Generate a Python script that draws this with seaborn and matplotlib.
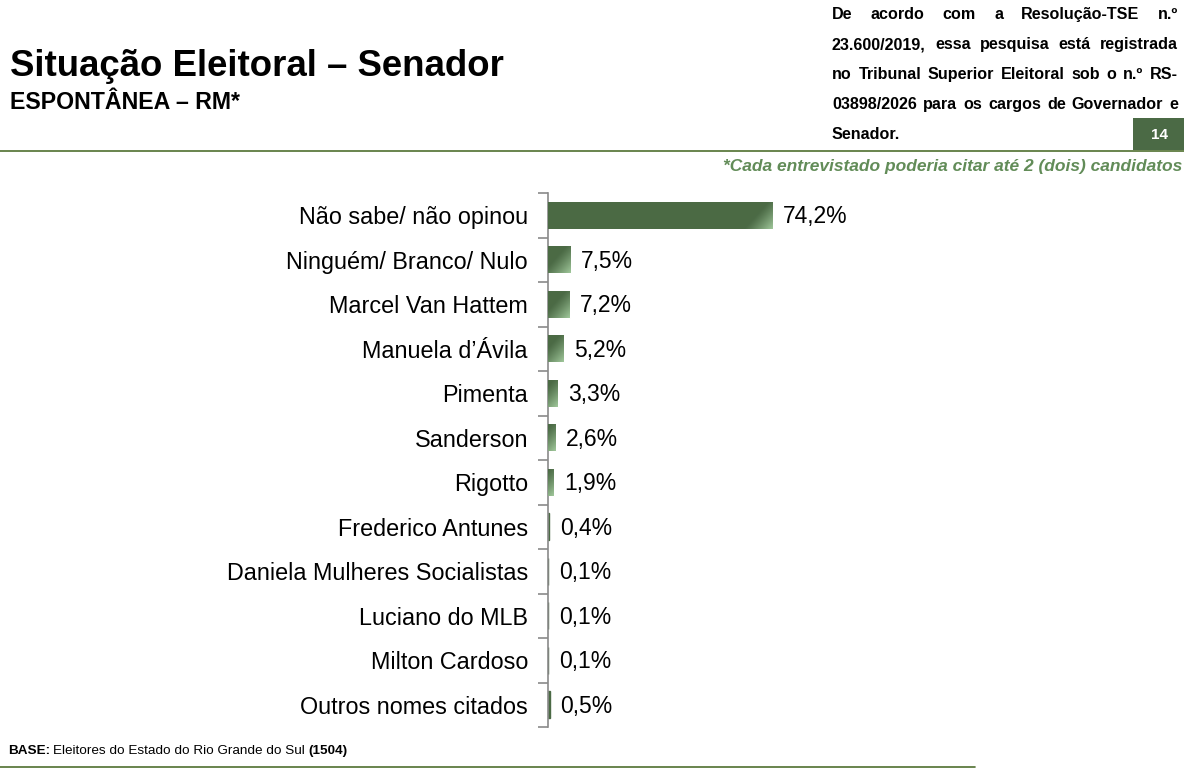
import numpy as np
import pandas as pd
import seaborn as sns
import matplotlib.pyplot as plt
from matplotlib.patches import Rectangle
from matplotlib.lines import Line2D

candidatos = [
    "Não sabe/ não opinou",
    "Ninguém/ Branco/ Nulo",
    "Marcel Van Hattem",
    "Manuela d’Ávila",
    "Pimenta",
    "Sanderson",
    "Rigotto",
    "Frederico Antunes",
    "Daniela Mulheres Socialistas",
    "Luciano do MLB",
    "Milton Cardoso",
    "Outros nomes citados",
]
percentuais = [74.2, 7.5, 7.2, 5.2, 3.3, 2.6, 1.9, 0.4, 0.1, 0.1, 0.1, 0.5]

titulo = "Situação Eleitoral – Senador"
subtitulo = "ESPONTÂNEA – RM*"
nota = "*Cada entrevistado poderia citar até 2 (dois) candidatos"
registro = [
    "De acordo com a Resolução-TSE n.º",
    "23.600/2019, essa pesquisa está registrada",
    "no Tribunal Superior Eleitoral sob o n.º RS-",
    "03898/2026 para os cargos de Governador e",
    "Senador.",
]
pagina = "14"

VERDE = "#4b6a45"
VERDE_LINHA = "#4f6f2f"
CINZA = "#8a8a8a"

sns.set_style("white")
plt.rcParams["font.family"] = ["Liberation Sans", "DejaVu Sans"]
plt.rcParams["text.color"] = "black"
plt.rcParams["ytick.color"] = CINZA
plt.rcParams["ytick.labelcolor"] = "black"

W, H = 1184, 782
fig = plt.figure(figsize=(W / 100, H / 100), dpi=100)

df = pd.DataFrame({"nome": candidatos, "pct": percentuais})

ax = fig.add_axes([548 / W, 1 - 727 / H, 552 / W, 534 / H])
sns.barplot(data=df, x="pct", y="nome", orient="h", color=VERDE,
            width=0.6, saturation=1, ax=ax)
ax.set_xlim(0, 552 / 3.03)
ax.set_ylim(len(candidatos) - 0.5, -0.5)
ax.set_xlabel("")
ax.set_ylabel("")
ax.set_xticks([])
for s in ["top", "right", "bottom"]:
    ax.spines[s].set_visible(False)
ax.spines["left"].set_color(CINZA)
ax.spines["left"].set_linewidth(1.2)
ax.tick_params(axis="y", which="major", left=False, length=0, pad=14.4,
               labelsize=16.8, labelcolor="black")
ax.set_yticks(np.arange(-0.5, len(candidatos), 1), minor=True)
ax.tick_params(axis="y", which="minor", left=True, length=7, color=CINZA,
               width=1.2, direction="out")

# degradê diagonal no canto inferior direito de cada barra
fig.canvas.draw()
escuro = np.array([75, 106, 69]) / 255
claro = np.array([165, 205, 160]) / 255
for p in ax.patches:
    x0, y0, w, h = p.get_x(), p.get_y(), p.get_width(), p.get_height()
    bb = p.get_window_extent()
    if bb.width < 2:
        # barras muito finas: contorno para ficarem visíveis como no original
        p.set_edgecolor(VERDE)
        p.set_linewidth(1.0)
        continue
    wp, hp = max(int(round(bb.width)), 1), max(int(round(bb.height)), 1)
    xs = np.arange(wp)[None, :]
    ys = np.arange(hp)[:, None]
    d = (wp - xs) + (hp - ys) * 0.9
    f = np.clip(1 - d / 30, 0, 1) ** 1.2
    img = escuro[None, None, :] * (1 - f[..., None]) + claro[None, None, :] * f[..., None]
    im = ax.imshow(img, extent=(x0, x0 + w, y0 + h, y0), aspect="auto",
                   interpolation="bilinear", zorder=3)
    im.set_clip_path(p)
ax.set_xlim(0, 552 / 3.03)
ax.set_ylim(len(candidatos) - 0.5, -0.5)

for i, v in enumerate(percentuais):
    ax.annotate(f"{v:.1f}%".replace(".", ","), (v, i), xytext=(7.5, -1),
                textcoords="offset points", va="center", ha="left",
                fontsize=16.5, color="black")

renderer = fig.canvas.get_renderer()

# cabeçalho
fig.text(10 / W, 1 - 76 / H, titulo, fontsize=26.4, fontweight="bold",
         ha="left", va="baseline")
fig.text(10 / W, 1 - 109 / H, subtitulo, fontsize=16.7, fontweight="bold",
         ha="left", va="baseline")

# bloco justificado
esq, dir_ = 832, 1178
bases = [19, 49, 79, 109, 139]
fs_reg = 11.6
for linha, yb in zip(registro, bases):
    palavras = linha.split(" ")
    textos = [fig.text(0, 1 - yb / H, p, fontsize=fs_reg, fontweight="bold",
                       ha="left", va="baseline") for p in palavras]
    larguras = [t.get_window_extent(renderer).width for t in textos]
    if linha == registro[-1]:
        esp = renderer.points_to_pixels(fs_reg) * 0.28
    else:
        esp = (dir_ - esq - sum(larguras)) / max(len(palavras) - 1, 1)
    x = esq
    for t, lw in zip(textos, larguras):
        t.set_x(x / W)
        x += lw + esp

fig.patches.append(Rectangle((1133 / W, 1 - 150 / H), 51 / W, 32 / H,
                             transform=fig.transFigure, facecolor=VERDE,
                             edgecolor="none"))
fig.text(1160 / W, 1 - 135 / H, pagina, fontsize=11, fontweight="bold",
         color="white", ha="center", va="center")

fig.lines.append(Line2D([0, 1], [1 - 151 / H] * 2, transform=fig.transFigure,
                        color=VERDE_LINHA, linewidth=1.2))
fig.text(1182 / W, 1 - 167 / H, nota, fontsize=12.5, fontweight="bold",
         style="italic", color="#628c58", ha="right", va="center")

# rodapé
yb = 1 - 751 / H
t1 = fig.text(8 / W, yb, "BASE:", fontsize=9.7, fontweight="bold",
              ha="left", va="center")
x = 8 + t1.get_window_extent(renderer).width + 3
t2 = fig.text(x / W, yb, "Eleitores do Estado do Rio Grande do Sul ",
              fontsize=9.7, ha="left", va="center")
x += t2.get_window_extent(renderer).width
fig.text(x / W, yb, "(1504)", fontsize=9.7, fontweight="bold",
         ha="left", va="center")
fig.lines.append(Line2D([0, 975 / W], [1 - 767 / H] * 2,
                        transform=fig.transFigure, color=VERDE_LINHA,
                        linewidth=1.2))

fig.savefig("out.png", dpi=100)
